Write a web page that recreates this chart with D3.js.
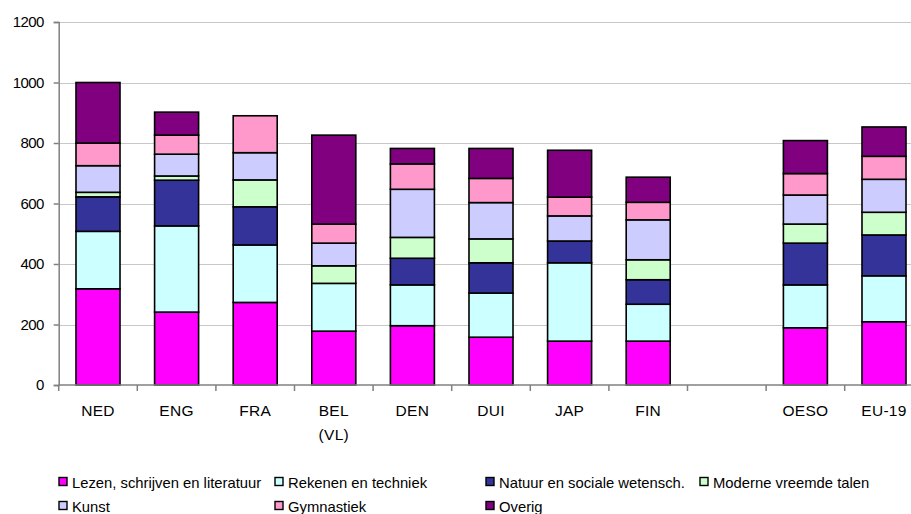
<!DOCTYPE html>
<html>
<head>
<meta charset="utf-8">
<script src="https://cdn.jsdelivr.net/npm/d3@7"></script>
<style>
  body { margin: 0; background: #fff; }
  svg { display: block; font-family: "Liberation Sans", Arial, sans-serif; }
</style>
</head>
<body>
<div id="chart"></div>
<script>
// categories (the empty one is the gap before OESO)
var landen = ["NED", "ENG", "FRA", "BEL", "DEN", "DUI", "JAP", "FIN", "gap", "OESO", "EU-19"];
var landLabels = [["NED"], ["ENG"], ["FRA"], ["BEL", "(VL)"], ["DEN"], ["DUI"], ["JAP"], ["FIN"], [], ["OESO"], ["EU-19"]];

// hours per subject, one value per category
var lezen   = [318, 241, 273, 178, 196, 158, 145, 145, 0, 189, 209];
var rekenen = [190, 285, 190, 158, 135, 146, 259, 122, 0, 142, 152];
var natuur  = [114, 151, 126,   0,  88, 100,  72,  81, 0, 138, 135];
var moderne = [ 15,  14,  89,  58,  69,  79,   0,  66, 0,  63,  75];
var kunst   = [ 88,  72,  90,  75, 159, 120,  83, 132, 0,  96, 109];
var gym     = [ 75,  63, 122,  63,  84,  80,  62,  58, 0,  71,  76];
var overig  = [200,  76,   0, 294,  51,  99, 155,  83, 0, 109,  97];

var vakken = ["Lezen, schrijven en literatuur", "Rekenen en techniek", "Natuur en sociale wetensch.",
  "Moderne vreemde talen", "Kunst", "Gymnastiek", "Overig"];
var reeksen = [lezen, rekenen, natuur, moderne, kunst, gym, overig];
var kleuren = ["#FF00FF", "#CCFFFF", "#333399", "#CCFFCC", "#CCCCFF", "#FF99CC", "#800080"];
var yTicks = [0, 200, 400, 600, 800, 1000, 1200];

var width = 911,
  height = 514;

var svg = d3.select("#chart")
  .append("svg")
  .attr("width", width)
  .attr("height", height);

var x = d3.scaleBand()
  .domain(landen)
  .range([58.7, 58.7 + 78.6 * landen.length])
  .padding(0);

var y = d3.scaleLinear()
  .domain([0, 1200])
  .range([385, 22]);

// table for d3.stack
var rows = landen.map(function(l, i) {
  var r = { land: l };
  vakken.forEach(function(v, j) { r[v] = reeksen[j][i]; });
  return r;
});
var stacked = d3.stack().keys(vakken)(rows);

// gridlines
svg.append("g")
  .selectAll("line")
  .data(yTicks.slice(1))
  .enter()
  .append("line")
  .attr("x1", 58.7)
  .attr("x2", width)
  .attr("y1", function(d) { return Math.round(y(d)) + 0.5; })
  .attr("y2", function(d) { return Math.round(y(d)) + 0.5; })
  .attr("stroke", "#c8c8c8")
  .attr("stroke-width", 1);

// bars
var barW = x.bandwidth() * 0.56;
svg.append("g")
  .selectAll("g")
  .data(stacked)
  .enter()
  .append("g")
  .attr("fill", function(d, i) { return kleuren[i]; })
  .selectAll("rect")
  .data(function(d) { return d.filter(function(s) { return s[1] - s[0] > 0; }); })
  .enter()
  .append("rect")
  .attr("x", function(d) { return x(d.data.land) + (x.bandwidth() - barW) / 2; })
  .attr("y", function(d) { return y(d[1]); })
  .attr("width", barW)
  .attr("height", function(d) { return y(d[0]) - y(d[1]); })
  .attr("stroke", "#000")
  .attr("stroke-width", 1.6);

// y axis
var yAxis = svg.append("g")
  .attr("transform", "translate(58.7,0)")
  .call(d3.axisLeft(y).tickValues(yTicks).tickSize(5).tickPadding(10).tickFormat(d3.format("d")));
yAxis.select(".domain").attr("stroke", "#808080").attr("stroke-width", 1.5);
yAxis.selectAll(".tick line").attr("stroke", "#808080").attr("stroke-width", 1.5);
yAxis.selectAll(".tick text")
  .attr("font-size", "15px")
  .attr("letter-spacing", "-0.6px")
  .attr("fill", "#000")
  .attr("font-family", "'Liberation Sans', Arial, sans-serif");

// x axis, ticks at band edges
svg.append("line")
  .attr("x1", 58.7).attr("x2", width)
  .attr("y1", 385).attr("y2", 385)
  .attr("stroke", "#808080")
  .attr("stroke-width", 1.5);

svg.append("g")
  .selectAll("line")
  .data(landen)
  .enter()
  .append("line")
  .attr("x1", function(d) { return x(d); })
  .attr("x2", function(d) { return x(d); })
  .attr("y1", 385)
  .attr("y2", 391)
  .attr("stroke", "#808080")
  .attr("stroke-width", 1.5);

var xl = svg.append("g")
  .selectAll("text")
  .data(landen)
  .enter()
  .append("text")
  .attr("x", function(d) { return x(d) + x.bandwidth() / 2; })
  .attr("y", 416)
  .attr("text-anchor", "middle")
  .attr("font-size", "15.5px")
  .attr("letter-spacing", "0.3px")
  .attr("fill", "#000");
xl.selectAll("tspan")
  .data(function(d, i) { return landLabels[i]; })
  .enter()
  .append("tspan")
  .attr("x", function() { var p = this.parentNode; return p.getAttribute("x"); })
  .attr("dy", function(d, i) { return i === 0 ? 0 : 24; })
  .text(function(d) { return d; });

// legend
var legX = [59, 275, 486, 700];
var legend = svg.append("g")
  .selectAll("g")
  .data(vakken)
  .enter()
  .append("g")
  .attr("transform", function(d, i) {
    return "translate(" + legX[i % 4] + "," + (i < 4 ? 477.5 : 501.5) + ")";
  });

legend.append("rect")
  .attr("width", 8)
  .attr("height", 8)
  .attr("fill", function(d, i) { return kleuren[i]; })
  .attr("stroke", "#000")
  .attr("stroke-width", 1.4);

legend.append("text")
  .attr("x", 13)
  .attr("y", 10)
  .attr("font-size", "14.8px")
  .attr("fill", "#000")
  .text(function(d) { return d; });
</script>
</body>
</html>
